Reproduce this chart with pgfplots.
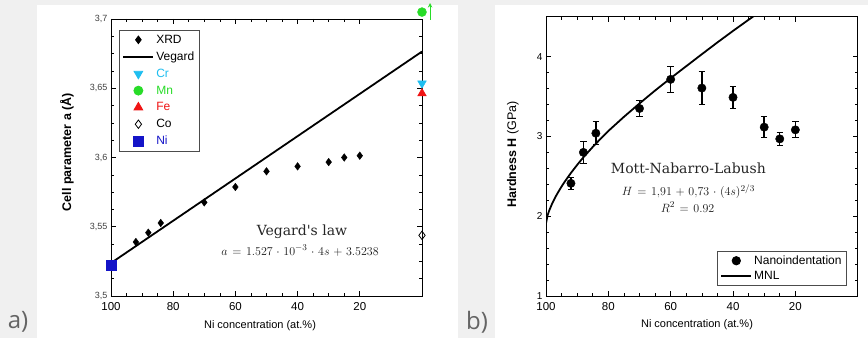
\documentclass[border=0pt]{standalone}
\usepackage{pgfplots}
\pgfplotsset{compat=1.18}
\usepackage{fontspec}
\setmainfont{Liberation Sans}
\newfontfamily\serifann{DejaVu Serif}
\newfontfamily\labfont{Open Sans}
\definecolor{bgcol}{RGB}{240,240,240}
\definecolor{crcol}{RGB}{30,190,240}
\definecolor{mncol}{RGB}{40,220,40}
\definecolor{fecol}{RGB}{240,20,20}
\definecolor{nicol}{RGB}{20,20,200}
\definecolor{labgray}{RGB}{100,100,100}
\newcommand{\widemath}{\medmuskip=5.5mu\thickmuskip=7mu}
\begin{document}
\begin{tikzpicture}[x=1pt,y=1pt]
\useasboundingbox (0,0) rectangle (868,338);
\fill[bgcol] (0,0) rectangle (868,338);
\fill[white] (37,0) rectangle (458,333);
\fill[white] (495,0) rectangle (868,333);
\node[font=\labfont\fontsize{24}{24}\selectfont, text=labgray] at (18,16) {a)};
\node[font=\labfont\fontsize{24}{24}\selectfont, text=labgray] at (477,16) {b)};

\pgfplotsset{
  mybase/.style={
    scale only axis, anchor=south west,
    x dir=reverse, xmin=0, xmax=100,
    xtick={20,40,60,80,100}, minor x tick num=3,
    tick align=inside, xtick pos=both, ytick pos=both,
    major tick length=5pt, minor tick length=3pt,
    every tick/.style={black, line width=0.6pt},
    axis line style={line width=0.8pt},
    /pgf/number format/assume math mode=true,
    xticklabel style={font=\fontsize{11.5}{12}\selectfont, yshift=-3pt},
    legend cell align=left,
    legend image code/.code={\draw[mark repeat=2,mark phase=2,#1] plot coordinates {(0pt,0pt) (15pt,0pt) (30pt,0pt)};},
  }
}

\begin{axis}[mybase, at={(111pt,42pt)}, width=311pt, height=277pt,
  ymin=3.5, ymax=3.7, ytick={3.5,3.55,3.6,3.65,3.7}, minor y tick num=3,
  yticklabel style={font=\fontsize{9}{9}\selectfont, text=black!75,
    /pgf/number format/use comma, /pgf/number format/fixed, /pgf/number format/precision=2},
  clip=false,
  legend style={at={(rel axis cs:0.026,0.962)}, anchor=north west,
    font=\fontsize{12}{14}\selectfont, draw=black!70, line width=0.8pt,
    row sep=3pt, inner xsep=3pt, inner ysep=3pt},
]
\addplot[only marks, mark=diamond*, mark size=3.8pt, black] coordinates {
(92,3.539) (88,3.5457) (84,3.5527) (70,3.5676) (60,3.5787) (50,3.590)
(40,3.5936) (30,3.5967) (25,3.600) (20,3.6013)};
\addlegendentry{XRD}
\addplot[black, line width=1.8pt, mark=none] coordinates {(100,3.5238) (0,3.6765)};
\addlegendentry{Vegard}
\addplot[only marks, mark=triangle*, mark size=5pt, mark options={rotate=180, fill=crcol, draw=crcol}] coordinates {(0,3.6535)};
\addlegendentry{\textcolor{crcol}{Cr}}
\addplot[only marks, mark=*, mark size=4.5pt, mark options={fill=mncol, draw=mncol}] coordinates {(0,3.705)};
\addlegendentry{\textcolor{mncol}{Mn}}
\addplot[only marks, mark=triangle*, mark size=5pt, mark options={fill=fecol, draw=fecol}] coordinates {(0,3.6463)};
\addlegendentry{\textcolor{fecol}{Fe}}
\addplot[only marks, mark=diamond, mark size=4.2pt, mark options={draw=black, line width=0.8pt}] coordinates {(0,3.5438)};
\addlegendentry{Co}
\addplot[only marks, mark=square*, mark size=5pt, mark options={fill=nicol, draw=nicol}] coordinates {(100,3.5225)};
\addlegendentry{\textcolor{nicol}{Ni}}
\draw[mncol, line width=1pt, -stealth] (axis cs:-2.6,3.6995) -- (axis cs:-2.6,3.7115);
\node[font=\serifann\fontsize{14}{14}\selectfont, text=black!85] at (axis cs:38.6,3.5464) {Vegard's law};
\node[font=\fontsize{13}{14}\selectfont, text=black!90] at (axis cs:39.2,3.5327) {$\widemath a = 1.527\cdot 10^{-3}\cdot 4s + 3.5238$};
\end{axis}
\node[rotate=90, font=\bfseries\fontsize{12.5}{13}\selectfont] at (67,186) {Cell parameter a (Å)};
\node[font=\fontsize{11}{12}\selectfont] at (260,12) {Ni concentration (at.\%)};

\begin{axis}[mybase, at={(546pt,42pt)}, width=311.7pt, height=279.3pt,
  ymin=1, ymax=4.5, ytick={1,2,3,4}, minor y tick num=4,
  yticklabel style={font=\fontsize{10}{10}\selectfont},
  legend style={at={(rel axis cs:0.9657,0.0358)}, anchor=south east,
    font=\fontsize{12}{14}\selectfont, draw=black!70, line width=0.8pt,
    row sep=1.5pt, inner xsep=3pt, inner ysep=2.5pt},
]
\addplot[only marks, mark=*, mark size=4.2pt, black,
  error bars/.cd, y dir=both, y explicit,
  error bar style={line width=1.4pt}, error mark options={rotate=90, mark size=3.2pt, line width=1.2pt}]
  table[x=x, y=y, y error=e] {
x y e
92 2.412 0.075
88 2.80 0.135
84 3.04 0.145
70 3.35 0.10
60 3.715 0.165
50 3.606 0.21
40 3.489 0.14
30 3.116 0.13
25 2.969 0.078
20 3.082 0.10
};
\addlegendentry{Nanoindentation}
\addplot[black, line width=1.8pt, mark=none] coordinates {
(100,1.91) (99.5,2.01) (99,2.068) (98,2.161) (97,2.239) (96,2.308) (95,2.372)
(94,2.432) (92,2.542) (90,2.643) (88,2.738) (85,2.868) (82,2.99) (80,3.068)
(75,3.245) (70,3.413) (65,3.575) (60,3.73) (55,3.88) (50,4.03) (45,4.178)
(40,4.322) (35,4.462) (33,4.517)};
\addlegendentry{MNL}
\node[font=\serifann\fontsize{14}{14}\selectfont, text=black!85] at (axis cs:54.3,2.605) {Mott-Nabarro-Labush};
\node[font=\fontsize{13}{14}\selectfont, text=black!90] at (axis cs:54.3,2.311) {$\widemath H = 1{,}91 + 0{,}73\cdot(4s)^{2/3}$};
\node[font=\fontsize{13}{14}\selectfont, text=black!90] at (axis cs:54.6,2.115) {$\widemath R^2 = 0.92$};
\end{axis}
\node[rotate=90, font=\fontsize{12.5}{13}\selectfont] at (513,183.5) {\textbf{Hardness H} (GPa)};
\node[font=\fontsize{11}{12}\selectfont] at (697,13) {Ni concentration (at.\%)};
\end{tikzpicture}
\end{document}
